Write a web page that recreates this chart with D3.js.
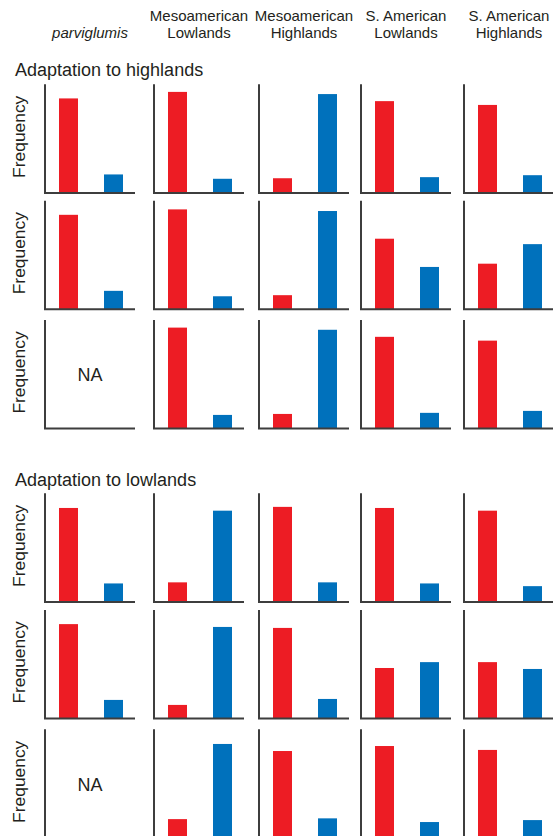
<!DOCTYPE html>
<html>
<head>
<meta charset="utf-8">
<script src="https://cdn.jsdelivr.net/npm/d3@7"></script>
<style>
  html, body { margin: 0; padding: 0; background: #fff; }
  svg { display: block; }
  text { font-family: "Liberation Sans", Arial, sans-serif; fill: #231f20; }
</style>
</head>
<body>
<svg id="chart" width="553" height="836"></svg>
<script>
// Population groups (column headers, one array entry per header line)
const populations = [
  ["parviglumis"],
  ["Mesoamerican", "Lowlands"],
  ["Mesoamerican", "Highlands"],
  ["S. American", "Lowlands"],
  ["S. American", "Highlands"]
];
const sections = ["Adaptation to highlands", "Adaptation to lowlands"];
const alleles = ["red", "blue"];

// Allele frequencies (fraction of axis height); null = not available
const highlandsRed = [
  [0.87, 0.93, 0.135, 0.845, 0.81],
  [0.87, 0.92, 0.13, 0.65, 0.42],
  [null, 0.93, 0.135, 0.845, 0.81]
];
const highlandsBlue = [
  [0.17, 0.13, 0.91, 0.145, 0.163],
  [0.17, 0.12, 0.905, 0.39, 0.60],
  [null, 0.126, 0.91, 0.145, 0.163]
];
const lowlandsRed = [
  [0.865, 0.18, 0.875, 0.865, 0.84],
  [0.87, 0.126, 0.835, 0.466, 0.52],
  [null, 0.173, 0.80, 0.846, 0.81]
];
const lowlandsBlue = [
  [0.17, 0.84, 0.18, 0.17, 0.145],
  [0.172, 0.844, 0.181, 0.52, 0.457],
  [null, 0.865, 0.18, 0.146, 0.164]
];

// Layout
const colLeft = [45, 154, 259, 361, 464];
const rowTop = [84.3, 200.7, 320, 493.3, 610, 729.3];
const panelW = 90, panelH = 108.6;
const colors = { red: "#ED1C24", blue: "#0071BC" };
const axisColor = "#3d3d3d";

const svg = d3.select("#chart");

// Column headers
populations.forEach((lines, c) => {
  const cx = colLeft[c] + panelW / 2;
  const t = svg.append("text")
    .attr("text-anchor", "middle")
    .attr("font-size", 15);
  if (lines.length === 1) {
    t.attr("x", cx).attr("y", 37.5).attr("font-style", "italic").text(lines[0]);
  } else {
    lines.forEach((ln, i) => {
      t.append("tspan").attr("x", cx).attr("y", 20.7 + i * 17.6).text(ln);
    });
  }
});

// Section titles
const sectionY = [76, 486];
sections.forEach((s, i) => {
  svg.append("text")
    .attr("x", 15).attr("y", sectionY[i])
    .attr("font-size", 18)
    .text(s);
});

const x = d3.scaleBand().domain(alleles).range([14, 78]).paddingInner(0.578).paddingOuter(0);
const y = d3.scaleLinear().domain([0, 1]).range([panelH, 0]);

const sectionData = [
  [highlandsRed, highlandsBlue],
  [lowlandsRed, lowlandsBlue]
];

sectionData.forEach(([redRows, blueRows], s) => {
  redRows.forEach((redRow, r) => {
    const top = rowTop[s * 3 + r];

    // Row y-axis label
    svg.append("text")
      .attr("transform", `translate(24.5,${top + panelH / 2 - 1.8}) rotate(-90)`)
      .attr("text-anchor", "middle")
      .attr("font-size", 17.4)
      .text("Frequency");

    redRow.forEach((rv, c) => {
      const g = svg.append("g").attr("transform", `translate(${colLeft[c]},${top})`);
      const bv = blueRows[r][c];

      if (rv == null) {
        g.append("text")
          .attr("x", panelW / 2).attr("y", panelH / 2 + 7)
          .attr("text-anchor", "middle")
          .attr("font-size", 18)
          .text("NA");
      } else {
        const vals = [{ k: "red", v: rv }, { k: "blue", v: bv }];
        g.selectAll("rect").data(vals).join("rect")
          .attr("x", d => x(d.k))
          .attr("width", x.bandwidth())
          .attr("y", d => y(d.v))
          .attr("height", d => y(0) - y(d.v))
          .attr("fill", d => colors[d.k]);
      }

      // Axes: left and bottom lines, no ticks
      g.append("line")
        .attr("x1", 0).attr("x2", 0).attr("y1", 0).attr("y2", panelH)
        .attr("stroke", axisColor).attr("stroke-width", 2);
      g.append("line")
        .attr("x1", -1).attr("x2", panelW).attr("y1", panelH).attr("y2", panelH)
        .attr("stroke", axisColor).attr("stroke-width", 2);
    });
  });
});
</script>
</body>
</html>
